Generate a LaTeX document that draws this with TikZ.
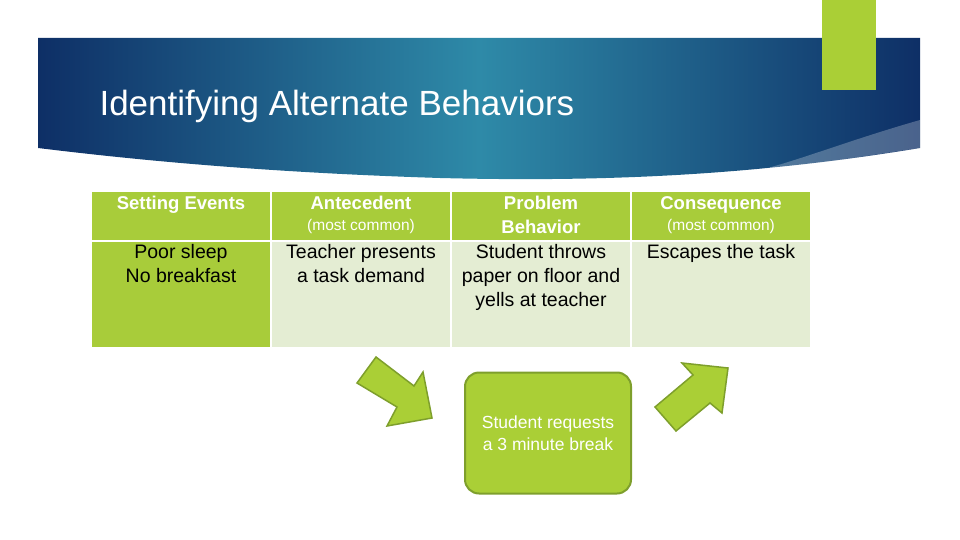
\documentclass[tikz,border=0pt]{standalone}
\usepackage{fontspec}
\setmainfont{Liberation Sans}
\definecolor{navy}{HTML}{0E2F66}
\definecolor{teal}{HTML}{2E8AA8}
\definecolor{limeg}{HTML}{AACF36}
\definecolor{limedark}{HTML}{7E9F2C}
\definecolor{paleg}{HTML}{E4EDD3}
\definecolor{headg}{HTML}{A8CC3A}
\tikzset{
  head/.style={anchor=north,font=\fontsize{18.5}{20}\selectfont\bfseries,text=white,align=center,inner sep=0pt},
  sub/.style={anchor=north,font=\fontsize{15.5}{16}\selectfont,text=white,inner sep=0pt},
  body/.style={anchor=north,font=\fontsize{19.5}{24}\selectfont,align=center,inner sep=0pt},
  bigarrow/.style={fill=limeg,draw=limedark,line width=1.5pt,line join=miter}
}
\begin{document}
\begin{tikzpicture}[x=1pt,y=-1pt]
  \useasboundingbox (0,0) rectangle (960,540);
  % banner
  \shade[left color=navy,right color=navy,middle color=teal]
    (38,38)--(920,38)--(920,148) .. controls (750,176) and (600,182) .. (440,178)
    .. controls (250,172) and (120,158) .. (38,148)--cycle;
  \fill[white,opacity=0.25] (920,120) .. controls (850,140) and (800,160) .. (760,170)
    .. controls (830,162) and (880,154) .. (920,148)--cycle;
  \fill[limeg] (822,0) rectangle (876,90);
  \node[anchor=west,text=white,font=\fontsize{35}{38}\selectfont] (title) at (96,106) {Identifying Alternate Behaviors};

  % table
  \fill[headg] (92,192) rectangle (810,240);
  \fill[headg] (92,242) rectangle (270,347);
  \fill[paleg] (272,242) rectangle (810,347);
  \foreach \x in {270,450,630} {\fill[white] (\x,192) rectangle (\x+2,347);}
  \fill[white] (92,240) rectangle (810,242);

  \node[head] (se) at (181,196) {Setting Events};
  \node[head] (an) at (361,196) {Antecedent};
  \node[sub] (ansub) at (361,219) {(most common)};
  \node[head,font=\fontsize{18.5}{24}\selectfont\bfseries] (pb) at (541,196) {Problem\\Behavior};
  \node[head] (co) at (721,196) {Consequence};
  \node[sub] (cosub) at (721,219) {(most common)};

  \node[body] (sebody) at (181,244) {Poor sleep\\No breakfast};
  \node[body] (anbody) at (361,244) {Teacher presents\\a task demand};
  \node[body] (pbbody) at (541,244) {Student throws\\paper on floor and\\yells at teacher};
  \node[body] (cobody) at (721,244) {Escapes the task};

  % replacement
  \node[fill=limeg,draw=limedark,line width=2pt,rounded corners=14pt,minimum width=166pt,minimum height=121pt,
    text=white,align=center,font=\fontsize{17.5}{22}\selectfont] (alt) at (548,433) {Student requests\\a 3 minute break};
  \draw[bigarrow] (376,357)--(414,386)--(423,372)--(432,418)--(387,426)--(397,407)--(357,383)--cycle;
  \draw[bigarrow] (655,407)--(693,375)--(682,363)--(728,368)--(722,413)--(710,403)--(676,431)--cycle;
\end{tikzpicture}
\end{document}
